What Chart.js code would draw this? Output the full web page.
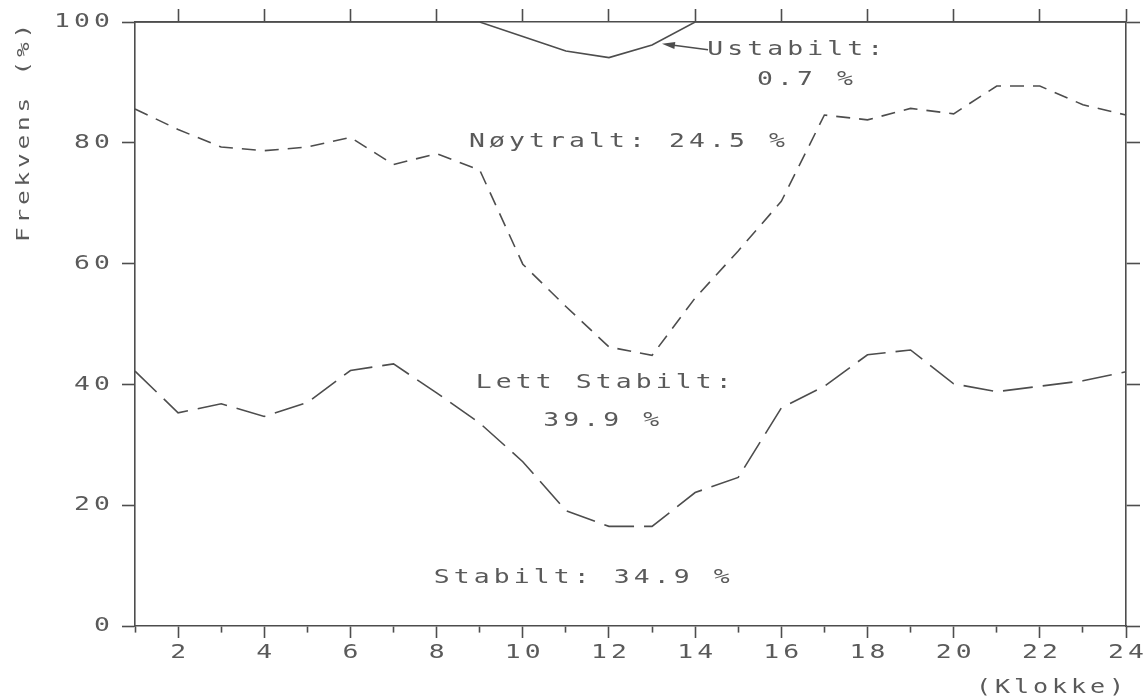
<!DOCTYPE html>
<html>
<head>
<meta charset="utf-8">
<script src="https://cdn.jsdelivr.net/npm/chart.js@4/dist/chart.umd.min.js"></script>
<style>
  html, body { margin: 0; padding: 0; background: #ffffff; }
  canvas { display: block; }
</style>
</head>
<body>
<canvas id="chart" width="1145" height="699"></canvas>
<script>
// Hours of the day (Klokke)
const hours = [1, 2, 3, 4, 5, 6, 7, 8, 9, 10, 11, 12, 13, 14, 15, 16, 17, 18, 19, 20, 21, 22, 23, 24];

// Cumulative frequency (%) — upper boundary of each stability class
const stabiltTop     = [42.2, 35.3, 36.8, 34.7, 37.0, 42.3, 43.4, 38.6, 33.6, 27.2, 19.1, 16.5,
                        16.5, 22.1, 24.6, 36.1, 39.7, 44.9, 45.7, 40.1, 38.8, 39.7, 40.6, 42.1];
const lettStabiltTop = [85.6, 82.2, 79.3, 78.7, 79.3, 80.9, 76.4, 78.2, 75.5, 59.9, 52.9, 46.2,
                        44.8, 54.3, 62.1, 70.3, 84.6, 83.8, 85.7, 84.8, 89.4, 89.4, 86.3, 84.6];
const noytraltTop    = [100, 100, 100, 100, 100, 100, 100, 100, 100, 97.6, 95.2, 94.1,
                        96.2, 100, 100, 100, 100, 100, 100, 100, 100, 100, 100, 100];

// Axis ticks
const yTicks = [0, 20, 40, 60, 80, 100];
const xLabelTicks = [2, 4, 6, 8, 10, 12, 14, 16, 18, 20, 22, 24];

const mean = a => a.reduce((s, v) => s + v, 0) / a.length;
const pct = v => v.toFixed(1) + ' %';

const shareStabilt  = mean(stabiltTop);
const shareLett     = mean(lettStabiltTop) - mean(stabiltTop);
const shareNoytralt = mean(noytraltTop) - mean(lettStabiltTop);
const shareUstabilt = 100 - mean(noytraltTop);

const INK = '#4d4d4d';
const TEXT_INK = '#5a5a5a';
const FONT_FAMILY = '"DejaVu Sans Mono", monospace';
const FONT_SIZE = 20;
const STRETCH = 1.32;   // plotter-style wide lettering

// Class labels, placed in data coordinates (hour, percent)
const classLabels = [
  { text: 'Ustabilt:', x: 16.32, y: 95.4 },
  { text: pct(shareUstabilt), x: 16.55, y: 90.4 },
  { text: 'Nøytralt: ' + pct(shareNoytralt), x: 12.42, y: 80.2 },
  { text: 'Lett Stabilt:', x: 11.88, y: 40.3 },
  { text: pct(shareLett), x: 11.82, y: 34.0 },
  { text: 'Stabilt: ' + pct(shareStabilt), x: 11.37, y: 7.9 }
];
const pointer = { fromX: 14.30, fromY: 95.4, toX: 13.23, toY: 96.4 };

const toXY = arr => hours.map((h, i) => ({ x: h, y: arr[i] }));

// Every string is set in fixed cells (one em per character), each glyph widened
function useCellLettering(ctx) {
  const plainFill = ctx.fillText.bind(ctx);
  ctx.fillText = function (text, x, y) {
    const s = String(text);
    const m = /(\d+(?:\.\d+)?)px/.exec(this.font);
    const pitch = m ? parseFloat(m[1]) : FONT_SIZE;
    const total = s.length * pitch;
    const align = this.textAlign;
    let start = x;
    if (align === 'center') start = x - total / 2;
    else if (align === 'right' || align === 'end') start = x - total;
    this.save();
    this.textAlign = 'center';
    for (let i = 0; i < s.length; i++) {
      this.save();
      this.translate(start + (i + 0.5) * pitch, y);
      this.scale(STRETCH, 1);
      plainFill(s[i], 0, 0);
      this.restore();
    }
    this.restore();
  };
}

const letteringPlugin = {
  id: 'lettering',
  beforeInit(chart) { useCellLettering(chart.ctx); }
};

const labelPlugin = {
  id: 'classLabels',
  afterDatasetsDraw(chart) {
    const { ctx, scales } = chart;
    const xs = scales.x, ys = scales.y;
    ctx.save();
    ctx.font = FONT_SIZE + 'px ' + FONT_FAMILY;
    ctx.fillStyle = TEXT_INK;
    ctx.textAlign = 'center';
    ctx.textBaseline = 'middle';
    classLabels.forEach(l => {
      ctx.fillText(l.text, xs.getPixelForValue(l.x), ys.getPixelForValue(l.y));
    });
    // arrow pointing at the unstable area
    const x1 = xs.getPixelForValue(pointer.fromX), y1 = ys.getPixelForValue(pointer.fromY);
    const x2 = xs.getPixelForValue(pointer.toX), y2 = ys.getPixelForValue(pointer.toY);
    const ang = Math.atan2(y2 - y1, x2 - x1);
    const c = Math.cos(ang), sn = Math.sin(ang);
    ctx.strokeStyle = INK;
    ctx.fillStyle = INK;
    ctx.lineWidth = 1.5;
    ctx.beginPath();
    ctx.moveTo(x1, y1);
    ctx.lineTo(x2 - 8 * c, y2 - 8 * sn);
    ctx.stroke();
    ctx.beginPath();
    ctx.moveTo(x2, y2);
    ctx.lineTo(x2 - 13 * c + 3.5 * sn, y2 - 13 * sn - 3.5 * c);
    ctx.lineTo(x2 - 13 * c - 3.5 * sn, y2 - 13 * sn + 3.5 * c);
    ctx.closePath();
    ctx.fill();
    ctx.restore();
  }
};

const lineStyle = {
  borderColor: INK,
  borderWidth: 1.6,
  pointRadius: 0,
  tension: 0,
  fill: false,
  clip: false
};

const tickFont = { family: FONT_FAMILY, size: FONT_SIZE };

new Chart(document.getElementById('chart'), {
  type: 'line',
  data: {
    datasets: [
      Object.assign({ label: 'Ustabilt', data: toXY(noytraltTop) }, lineStyle),
      Object.assign({ label: 'Nøytralt', data: toXY(lettStabiltTop), borderDash: [14, 9] }, lineStyle),
      Object.assign({ label: 'Lett Stabilt', data: toXY(stabiltTop), borderDash: [30, 10] }, lineStyle)
    ]
  },
  options: {
    responsive: false,
    animation: false,
    events: [],
    layout: { padding: 0 },
    plugins: {
      legend: { display: false },
      tooltip: { enabled: false }
    },
    scales: {
      x: {
        type: 'linear',
        position: 'bottom',
        min: 1,
        max: 24,
        afterBuildTicks: s => { s.ticks = hours.map(v => ({ value: v })); },
        afterFit: s => { s.height = 73; },
        border: { display: true, color: INK, width: 1.6 },
        grid: {
          drawOnChartArea: false,
          drawTicks: true,
          tickLength: 12,
          tickColor: INK,
          tickWidth: 1.6,
          tickBorderDash: ctx => (ctx.tick && ctx.tick.value % 2 === 1) ? [6, 40] : []
        },
        ticks: {
          autoSkip: false,
          maxRotation: 0,
          padding: 3,
          color: TEXT_INK,
          font: tickFont,
          callback: v => xLabelTicks.includes(v) ? String(v) : ''
        },
        title: {
          display: true,
          text: '(Klokke)',
          align: 'end',
          color: TEXT_INK,
          font: { family: FONT_FAMILY, size: 19 },
          padding: { top: 0, bottom: 0 }
        }
      },
      xTop: {
        type: 'linear',
        position: 'top',
        min: 1,
        max: 24,
        afterBuildTicks: s => { s.ticks = hours.map(v => ({ value: v })); },
        afterFit: s => { s.height = 20; },
        border: { display: true, color: INK, width: 1.6 },
        grid: {
          drawOnChartArea: false,
          tickLength: 13,
          tickWidth: 1.6,
          tickColor: ctx => (ctx.tick && ctx.tick.value % 2 === 0) ? INK : 'rgba(0,0,0,0)'
        },
        ticks: { display: false }
      },
      y: {
        type: 'linear',
        position: 'left',
        min: 0,
        max: 100,
        afterBuildTicks: s => { s.ticks = yTicks.map(v => ({ value: v })); },
        afterFit: s => { s.width = 135; },
        border: { display: true, color: INK, width: 1.6 },
        grid: {
          drawOnChartArea: false,
          tickLength: 13,
          tickWidth: 1.6,
          tickColor: INK
        },
        ticks: {
          padding: 10,
          color: TEXT_INK,
          font: tickFont
        },
        title: {
          display: true,
          text: 'Frekvens (%)',
          align: 'end',
          color: TEXT_INK,
          font: { family: FONT_FAMILY, size: 18.5 },
          padding: { top: 13, bottom: 0 }
        }
      },
      yRight: {
        type: 'linear',
        position: 'right',
        min: 0,
        max: 100,
        afterBuildTicks: s => { s.ticks = yTicks.map(v => ({ value: v })); },
        afterFit: s => { s.width = 19; },
        border: { display: true, color: INK, width: 1.6 },
        grid: {
          drawOnChartArea: false,
          tickLength: 14,
          tickWidth: 1.6,
          tickColor: INK
        },
        ticks: { display: false }
      }
    }
  },
  plugins: [letteringPlugin, labelPlugin]
});
</script>
</body>
</html>
